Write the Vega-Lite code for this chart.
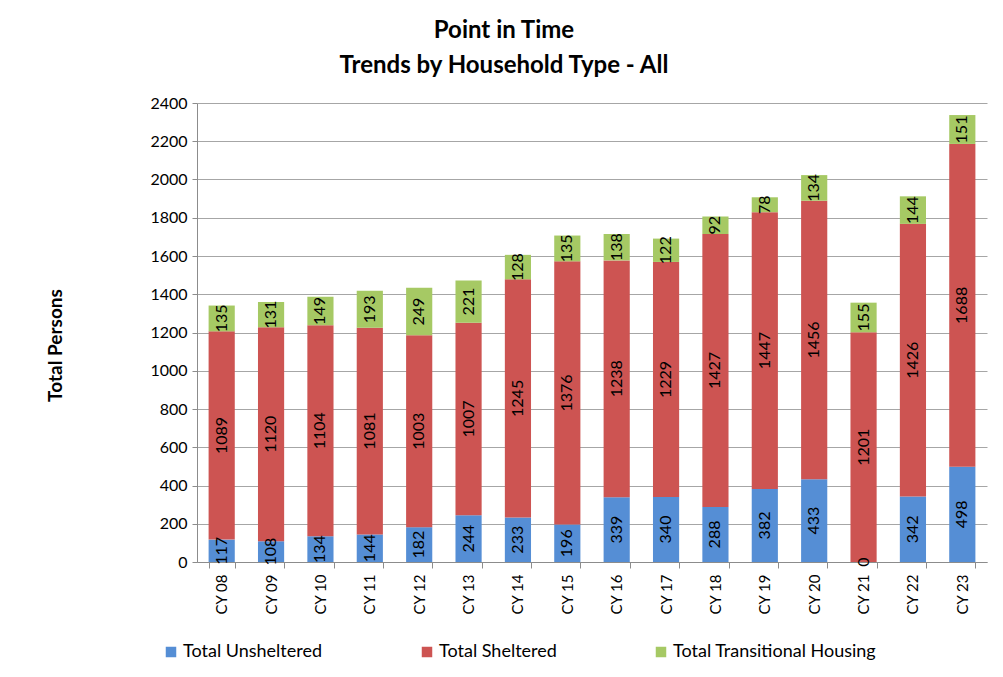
{
  "$schema": "https://vega.github.io/schema/vega-lite/v6.json",
  "width": 790,
  "height": 459,
  "autosize": "none",
  "padding": {"left": 197, "top": 103, "right": 16, "bottom": 115},
  "background": "white",
  "config": {"view": {"stroke": null}, "font": "Lato"},
  "title": {
    "text": ["Point in Time", "Trends by Household Type - All"],
    "fontSize": 24,
    "font": "Lato",
    "fontWeight": "bold",
    "color": "black",
    "anchor": "middle",
    "dx": -88,
    "offset": 17,
    "lineHeight": 35
  },
  "data": {
    "values": [
      {"year": "CY 08", "type": "Total Unsheltered", "value": 117},
      {"year": "CY 08", "type": "Total Sheltered", "value": 1089},
      {"year": "CY 08", "type": "Total Transitional Housing", "value": 135},
      {"year": "CY 09", "type": "Total Unsheltered", "value": 108},
      {"year": "CY 09", "type": "Total Sheltered", "value": 1120},
      {"year": "CY 09", "type": "Total Transitional Housing", "value": 131},
      {"year": "CY 10", "type": "Total Unsheltered", "value": 134},
      {"year": "CY 10", "type": "Total Sheltered", "value": 1104},
      {"year": "CY 10", "type": "Total Transitional Housing", "value": 149},
      {"year": "CY 11", "type": "Total Unsheltered", "value": 144},
      {"year": "CY 11", "type": "Total Sheltered", "value": 1081},
      {"year": "CY 11", "type": "Total Transitional Housing", "value": 193},
      {"year": "CY 12", "type": "Total Unsheltered", "value": 182},
      {"year": "CY 12", "type": "Total Sheltered", "value": 1003},
      {"year": "CY 12", "type": "Total Transitional Housing", "value": 249},
      {"year": "CY 13", "type": "Total Unsheltered", "value": 244},
      {"year": "CY 13", "type": "Total Sheltered", "value": 1007},
      {"year": "CY 13", "type": "Total Transitional Housing", "value": 221},
      {"year": "CY 14", "type": "Total Unsheltered", "value": 233},
      {"year": "CY 14", "type": "Total Sheltered", "value": 1245},
      {"year": "CY 14", "type": "Total Transitional Housing", "value": 128},
      {"year": "CY 15", "type": "Total Unsheltered", "value": 196},
      {"year": "CY 15", "type": "Total Sheltered", "value": 1376},
      {"year": "CY 15", "type": "Total Transitional Housing", "value": 135},
      {"year": "CY 16", "type": "Total Unsheltered", "value": 339},
      {"year": "CY 16", "type": "Total Sheltered", "value": 1238},
      {"year": "CY 16", "type": "Total Transitional Housing", "value": 138},
      {"year": "CY 17", "type": "Total Unsheltered", "value": 340},
      {"year": "CY 17", "type": "Total Sheltered", "value": 1229},
      {"year": "CY 17", "type": "Total Transitional Housing", "value": 122},
      {"year": "CY 18", "type": "Total Unsheltered", "value": 288},
      {"year": "CY 18", "type": "Total Sheltered", "value": 1427},
      {"year": "CY 18", "type": "Total Transitional Housing", "value": 92},
      {"year": "CY 19", "type": "Total Unsheltered", "value": 382},
      {"year": "CY 19", "type": "Total Sheltered", "value": 1447},
      {"year": "CY 19", "type": "Total Transitional Housing", "value": 78},
      {"year": "CY 20", "type": "Total Unsheltered", "value": 433},
      {"year": "CY 20", "type": "Total Sheltered", "value": 1456},
      {"year": "CY 20", "type": "Total Transitional Housing", "value": 134},
      {"year": "CY 21", "type": "Total Unsheltered", "value": 0},
      {"year": "CY 21", "type": "Total Sheltered", "value": 1201},
      {"year": "CY 21", "type": "Total Transitional Housing", "value": 155},
      {"year": "CY 22", "type": "Total Unsheltered", "value": 342},
      {"year": "CY 22", "type": "Total Sheltered", "value": 1426},
      {"year": "CY 22", "type": "Total Transitional Housing", "value": 144},
      {"year": "CY 23", "type": "Total Unsheltered", "value": 498},
      {"year": "CY 23", "type": "Total Sheltered", "value": 1688},
      {"year": "CY 23", "type": "Total Transitional Housing", "value": 151}
    ]
  },
  "transform": [
    {"calculate": "indexof(['Total Unsheltered','Total Sheltered','Total Transitional Housing'], datum.type)", "as": "ord"},
    {"stack": "value", "groupby": ["year"], "sort": [{"field": "ord"}], "as": ["v0", "v1"]},
    {"calculate": "(datum.v0 + datum.v1) / 2", "as": "mid"}
  ],
  "resolve": {"axis": {"y": "independent"}},
  "encoding": {
    "x": {
      "field": "year",
      "type": "nominal",
      "sort": null,
      "scale": {"paddingInner": 0.47, "paddingOuter": 0.235},
      "axis": {
        "title": null,
        "labelAngle": 270,
        "labelFontSize": 15,
        "labelFont": "Lato",
        "labelColor": "black",
        "labelOverlap": false,
        "tickBand": "extent",
        "domainColor": "#8c8c8c",
        "tickColor": "#8c8c8c",
        "tickSize": 6,
        "labelPadding": 6,
        "grid": false
      }
    }
  },
  "layer": [
    {
      "mark": {"type": "bar"},
      "encoding": {
        "y": {
          "field": "v0",
          "type": "quantitative",
          "scale": {"domain": [0, 2400], "nice": false},
          "axis": {
            "title": "Total Persons",
            "values": [0, 200, 400, 600, 800, 1000, 1200, 1400, 1600, 1800, 2000, 2200, 2400],
            "format": "d",
            "labelOverlap": false,
            "grid": true,
            "gridColor": "#a6a6a6",
            "domainColor": "#8c8c8c",
            "tickColor": "#8c8c8c",
            "tickSize": 5,
            "labelFontSize": 16,
            "labelFont": "Lato",
            "labelColor": "black",
            "labelPadding": 5,
            "titleFont": "Lato",
            "titleFontSize": 19,
            "titleFontWeight": "bold",
            "titleColor": "black",
            "titleAngle": 270,
            "titleX": -142,
            "titleY": 242,
            "titleAlign": "center",
            "titleBaseline": "middle"
          }
        },
        "y2": {"field": "v1"},
        "color": {
          "field": "type",
          "type": "nominal",
          "scale": {
            "domain": ["Total Unsheltered", "Total Sheltered", "Total Transitional Housing"],
            "range": ["#558ed5", "#cd5452", "#a6c964"]
          },
          "legend": {
            "title": null,
            "orient": "none",
            "legendX": -35,
            "legendY": 540,
            "direction": "horizontal",
            "symbolType": "square",
            "symbolSize": 110,
            "symbolStrokeWidth": 0,
            "labelFontSize": 18,
            "labelFont": "Lato",
            "labelColor": "black",
            "labelLimit": 400,
            "labelOffset": 3,
            "columnPadding": 95
          }
        }
      }
    },
    {
      "mark": {"type": "text", "angle": 270, "fontSize": 16, "font": "Lato", "color": "black", "align": "center", "baseline": "middle"},
      "encoding": {
        "y": {"field": "mid", "type": "quantitative", "axis": null},
        "text": {"field": "value", "type": "quantitative"}
      }
    }
  ]
}
